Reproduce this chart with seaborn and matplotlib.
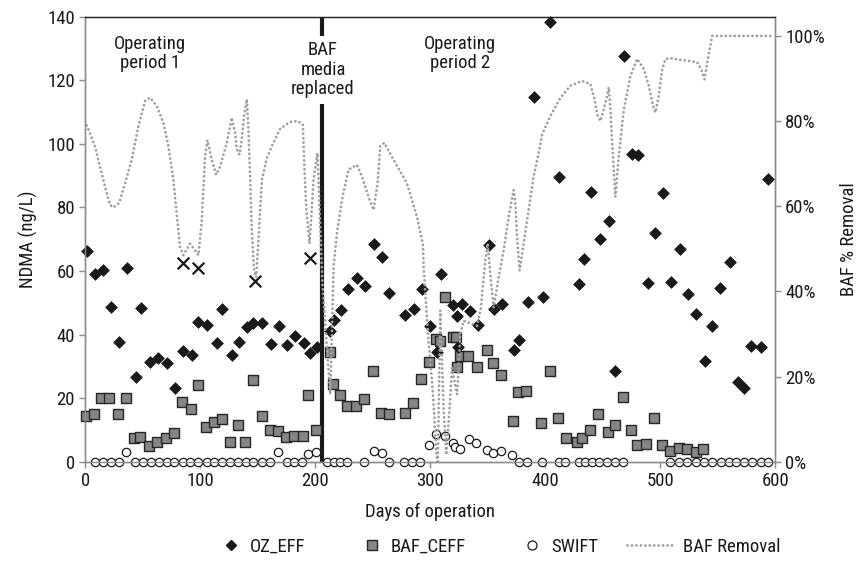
import numpy as np
import pandas as pd
import matplotlib
matplotlib.use("Agg")
import matplotlib.pyplot as plt
from matplotlib import font_manager as fm
import seaborn as sns
from matplotlib.lines import Line2D
from matplotlib.legend_handler import HandlerLine2D
from matplotlib.ticker import PercentFormatter

# ---------------- data ----------------
oz_days = [1.6, 8.3, 15, 21.9, 29.2, 36.4, 43.7, 48, 56.1, 63.4, 70.7, 77.9, 85.1, 92.4, 98.2,
           105.5, 114.2, 119, 127.2, 133.9, 140.3, 146, 153.9, 161.4, 168.4, 175.6, 182.6, 190,
           194.8, 201.7, 212.8, 215.7, 222.1, 228.7, 236, 243.3, 250.5, 257.8, 263.5, 278.1, 285.3,
           292.6, 299.8, 305.3, 309.1, 319.6, 323.1, 323.9, 327.4, 334, 341, 350.6, 355, 362.2,
           372.3, 376.7, 384.5, 389.7, 397.6, 404.3, 411.5, 428.9, 433.2, 439.9, 447.2, 455,
           460.8, 468.1, 475.4, 480.7, 488.9, 495.6, 502.3, 509.3, 516.8, 523.8, 531.1, 538.3,
           545, 551.6, 560.3, 567.3, 572.5, 578.9, 587, 593.4]
oz_vals = [66.3, 59.2, 60.3, 48.6, 37.7, 61, 26.6, 48.4, 31.4, 32.6, 31, 23.2, 34.7, 33.5, 44,
           43, 37.4, 48.2, 33.5, 37.7, 42.3, 43.7, 43.7, 37, 42.6, 36.8, 39.6, 37.4,
           34.2, 36.2, 41.1, 44.5, 47.7, 54.2, 57.7, 55.4, 68.5, 64.5, 53.1, 46.1, 48.2,
           54.4, 42.6, 34.5, 59, 49.2, 45.8, 36, 49.7, 47.4, 42.9, 68.2, 47.9, 49.7,
           35, 38.4, 50.2, 114.6, 51.8, 138.4, 89.5, 55.8, 63.7, 84.7, 70.2, 75.6,
           28.6, 127.7, 96.9, 96.5, 56.1, 71.9, 84.4, 56.5, 66.9, 52.8, 46.6, 31.6,
           42.6, 54.7, 62.9, 25, 23.2, 36.3, 36, 89]

baf_days = [0.2, 7.7, 13.5, 20.7, 28, 35.2, 42.5, 47.4, 55.3, 62.5, 69.8, 77, 84.2, 91.6, 98.2,
            104.6, 111.8, 119.1, 125.8, 132.5, 138.8, 146, 153.4, 160.6, 167.8, 174.5, 181.5,
            189, 193.9, 200.6, 212.2, 215.1, 220.9, 227.3, 235.2, 242.4, 250, 257.2, 263.5,
            277.5, 284.8, 291.7, 298.3, 305, 307.9, 312.9, 319.6, 322.5, 323.1, 325.3, 332.6,
            340.1, 348.8, 354.4, 361.4, 371.4, 376.1, 383.4, 396.4, 403.7, 411, 418.2, 427.5,
            431.9, 439.1, 445.8, 454.1, 460.2, 467.5, 474.5, 480, 487.6, 494.8, 501.5, 508.7,
            515.9, 523.2, 530.5, 537.2]
baf_vals = [14.4, 15, 20, 20, 15, 20, 7.4, 7.9, 4.9, 6.3, 7.4, 8.9, 18.7, 16.5, 24.2,
            10.8, 12.6, 13.5, 6.3, 11.4, 6.3, 25.8, 14.4, 10, 9.7, 7.9, 8.1,
            8.1, 21, 10, 34.5, 24.4, 21, 17.4, 17.4, 19.8, 28.6, 15.3, 15,
            15.3, 18.4, 26.1, 31.3, 38.7, 38.1, 51.8, 39.3, 39.3, 29.8, 33.2, 33.2,
            29.8, 35.3, 31.2, 27.3, 12.9, 22, 22.1, 12.1, 28.6, 13.9, 7.4, 6.3,
            7.6, 10, 15, 9.2, 11.6, 20.5, 10, 5.3, 5.6, 13.7, 5.3, 3.4,
            4.2, 3.9, 3.2, 3.9]

swift_days = [8.3, 15.5, 22.2, 29.2, 35.2, 43.1, 50.3, 57, 64, 70.7, 77.3, 84.6, 91, 98.2,
              105.5, 112.1, 118.5, 125.8, 133, 139.4, 146, 153.4, 160.6, 167.8, 175.1, 181.7,
              188.2, 193.9, 200.6, 209.9, 215.7, 221.5, 227.3, 241.8, 250.5, 257.8, 263.5,
              276.6, 283.9, 291.1, 298.3, 305, 312.9, 319.6, 321.6, 325.3, 333.2, 339.9,
              349.2, 354.4, 361.4, 370.9, 376.7, 384, 397, 411.5, 417.3, 428.9, 434.7, 440.6,
              446.3, 453.6, 460.8, 467.5, 508.7, 515.9, 523.2, 530.5, 537.7, 545, 552.4,
              559.4, 565.3, 572.5, 579.8, 587, 593.4]
swift_vals = [0, 0, 0, 0, 3, 0, 0, 0, 0, 0, 0, 0, 0, 0,
              0, 0, 0, 0, 0, 0, 0, 0, 0, 3.2, 0, 0,
              0, 2.3, 3.2, 0, 0, 0, 0, 0, 3.5, 2.7, 0,
              0, 0, 0, 5.3, 8.6, 8.2, 5.8, 4.7, 4.0, 7.2, 5.9,
              3.7, 2.6, 3.4, 2.1, 0, 0, 0, 0, 0, 0, 0, 0,
              0, 0, 0, 0, 0, 0, 0, 0, 0, 0, 0,
              0, 0, 0, 0, 0, 0]

flag_days = [85.1, 98.2, 147.5, 194.8]
flag_vals = [62.6, 61, 56.9, 64.2]

removal_days = [1.0, 3.3, 8.3, 12.6, 17, 21.3, 24.2, 29.4, 34.4, 40.2, 46, 51.8, 56.1, 62, 67.7,
                72.1, 76.4, 79.9, 82.2, 85.1, 90.9, 95.3, 98.2, 101.1, 104, 106, 109.8, 113.6,
                117.1, 122.9, 127.2, 130.1, 131.6, 133.9, 135.9, 137.9, 140.3, 141.7, 143.2,
                144.6, 146.6, 148.4, 150.4, 153.4, 157.7, 163.4, 169.3, 178, 184.3, 189, 190.2,
                191.9, 194.8, 196, 198.3, 201.7, 206, 212.8, 214.3, 215.7, 218.6, 223, 228.7,
                236, 240.4, 246.1, 250.5, 254, 256.3, 259.8, 267.9, 279.5, 288.3, 293.5, 294,
                296.3, 298.3, 301.3, 303.3, 305, 306.4, 308.5, 311.4, 313.7, 316.6, 318.7,
                323.1, 324.5, 325.9, 328.8, 340.5, 343.9, 345.7, 347.7, 349.7, 352, 354.9,
                359.3, 363.6, 368, 372.3, 373.8, 375.3, 377.5, 381, 385.4, 389.7, 394.1, 397,
                404.3, 413, 421.7, 431.9, 439.1, 442.6, 445.4, 447.8, 450.6, 453.6, 455, 456.5,
                458, 460.8, 463.7, 468.1, 473.9, 479.7, 485.5, 489.8, 493.6, 495.6, 498.5,
                501.5, 504.4, 510.2, 515.9, 523.2, 531.9, 535.4, 538.3, 541.2, 545, 598.6]
removal_pct = [79, 77.6, 74, 69.3, 64.6, 60.3, 59.7, 60.8, 65.4, 70.9, 78.8, 84.7, 85.5, 83.5, 79.6,
               74.1, 66.2, 56.7, 50.4, 48.5, 51.2, 49.6, 48.5, 56.7, 71.7, 75.5, 70.9, 67.4,
               69.3, 74.9, 80.8, 77.2, 73.3, 72.1, 75.7, 81.2, 85.1, 78, 66.2,
               54.4, 44.9, 43.3, 52, 66.2, 71.3, 74.9, 78.2, 79.8, 80, 79.2, 70.1,
               59.9, 51.2, 56, 66.2, 72.5, 42, 15.8, 30, 45.7, 53.6, 61.5, 68.6,
               69.7, 67, 62.2, 59.1, 65.4, 74.1, 74.9, 70.9, 65.4, 57.5, 50.8, 46,
               36.2, 28.4, 18.9, 11, 1.6, 0, 35.5, 12.6, 1.6, 12.6, 22,
               15.8, 22, 30, 33.1, 31.9, 36.2, 41.8, 47.3, 51.2, 44.1, 36.2,
               43.3, 49.6, 57.5, 63.8, 60.7, 52.8, 44.9, 51.2, 59.1, 67, 72.5, 76.8,
               81.2, 85.5, 88.3, 89.4, 88.7, 85.1, 81.2, 80, 82.7, 85.9, 87.9, 82.7,
               74.9, 62.2, 71.7, 82.7, 90.6, 94.6, 92.2, 88.3, 83.5, 82, 85.9,
               92.2, 94.6, 94.7, 94.4, 94.2, 93.8, 92.2, 89.8, 94.6, 100, 100]

media_change_day = 205.6
x_ticks = [0, 100, 200, 300, 400, 500, 600]
y_ticks = [0, 20, 40, 60, 80, 100, 120, 140]
y2_ticks = [0, 20, 40, 60, 80, 100]

# ---------------- style ----------------
sns.set_style("white")

# pick a narrow / condensed sans face if one is installed
_fonts = fm.fontManager.ttflist
_names = {f.name for f in _fonts}
FONT_FAMILY = ['Liberation Sans', 'DejaVu Sans']
FONT_STRETCH = 'normal'
FS = 12
for cand in ['Liberation Sans Narrow', 'Arial Narrow', 'Roboto Condensed',
             'Open Sans Condensed', 'DejaVu Sans Condensed', 'Noto Sans Condensed']:
    if cand in _names:
        FONT_FAMILY = [cand, 'DejaVu Sans']
        FS = 13.5
        break
else:
    for fam in ['Liberation Sans', 'Roboto', 'Open Sans', 'Noto Sans', 'DejaVu Sans']:
        if any(f.name == fam and f.stretch in ('condensed', 'semi-condensed', 'extra-condensed')
               for f in _fonts):
            FONT_FAMILY = [fam, 'DejaVu Sans']
            FONT_STRETCH = 'condensed'
            FS = 13.5
            break
plt.rcParams['font.family'] = FONT_FAMILY
plt.rcParams['font.stretch'] = FONT_STRETCH

GRAY_AX = '#8c8c8c'
TXT = '#1a1a1a'
LINE_C = '#a0a0a0'

fig = plt.figure(figsize=(8.68, 5.61), dpi=100)
ax = fig.add_axes([0.0985, 0.177, 0.7949, 0.7932])
ax2 = ax.twinx()

oz = pd.DataFrame({'day': oz_days, 'val': oz_vals})
baf = pd.DataFrame({'day': baf_days, 'val': baf_vals})
sw = pd.DataFrame({'day': swift_days, 'val': swift_vals})
fl = pd.DataFrame({'day': flag_days, 'val': flag_vals})
rm = pd.DataFrame({'day': removal_days, 'pct': removal_pct})

ax.axvline(media_change_day, color='#1a1a1a', lw=3.0, zorder=1.5)

sns.scatterplot(data=sw, x='day', y='val', ax=ax, marker='o', s=36, color='white',
                edgecolor='#1a1a1a', linewidth=0.9, zorder=3, clip_on=False, legend=False)
sns.scatterplot(data=baf, x='day', y='val', ax=ax, marker='s', s=48, color='#858585',
                edgecolor='#262626', linewidth=1.0, zorder=3, clip_on=False, legend=False)
sns.scatterplot(data=oz, x='day', y='val', ax=ax, marker='D', s=36, color='#1a1a1a',
                edgecolor='#1a1a1a', linewidth=0.5, zorder=4, clip_on=False, legend=False)
sns.scatterplot(data=fl, x='day', y='val', ax=ax, marker='x', s=70, color='#1a1a1a',
                linewidth=1.6, zorder=4, legend=False)

sns.lineplot(data=rm, x='day', y='pct', ax=ax2, sort=False, estimator=None,
             color=LINE_C, lw=2.0, legend=False)
for ln in ax2.lines:
    ln.set_linestyle((0, (0.05, 1.55)))
    ln.set_dash_capstyle('round')

ax.set_xlim(0, 600)
ax.set_ylim(0, 140)
ax2.set_ylim(0, 104.5)
ax.set_xticks(x_ticks)
ax.set_yticks(y_ticks)
ax2.set_yticks(y2_ticks)
ax2.yaxis.set_major_formatter(PercentFormatter(100, decimals=0))

for a in (ax, ax2):
    for side in ('left', 'right', 'bottom'):
        a.spines[side].set_color(GRAY_AX)
        a.spines[side].set_linewidth(1.0)
    a.spines['top'].set_color('#262626')
    a.spines['top'].set_linewidth(0.9)
    a.tick_params(axis='both', colors=GRAY_AX, labelcolor=TXT, labelsize=FS,
                  length=4, width=1.0, direction='out')
ax.tick_params(axis='y', left=True, right=False)
ax.tick_params(axis='x', bottom=True)
ax2.tick_params(axis='y', right=True, pad=3)

ax.set_xlabel('Days of operation', fontsize=FS, color=TXT, labelpad=9)
ax.set_ylabel('NDMA (ng/L)', fontsize=FS, color=TXT, labelpad=7)
ax2.set_ylabel('BAF % Removal', fontsize=FS, color=TXT, labelpad=11)

ax.text(56, 128.5, 'Operating\nperiod 1', ha='center', va='center', fontsize=FS,
        color=TXT, linespacing=1.1, zorder=5)
ax.text(326, 128.5, 'Operating\nperiod 2', ha='center', va='center', fontsize=FS,
        color=TXT, linespacing=1.1, zorder=5)
ax.text(206.5, 123.3, 'BAF\nmedia\nreplaced', ha='center', va='center', fontsize=FS,
        color=TXT, linespacing=1.1, zorder=5,
        bbox=dict(facecolor='white', edgecolor='none', pad=4))


class LongLine(HandlerLine2D):
    def create_artists(self, legend, orig_handle, xdescent, ydescent, width, height,
                       fontsize, trans):
        extra = 20
        return super().create_artists(legend, orig_handle, xdescent + extra, ydescent,
                                      width + extra, height, fontsize, trans)


h_oz = Line2D([], [], ls='none', marker='D', ms=5.5, color='#1a1a1a')
h_baf = Line2D([], [], ls='none', marker='s', ms=7, markerfacecolor='#858585',
               markeredgecolor='#262626', markeredgewidth=1.0)
h_sw = Line2D([], [], ls='none', marker='o', ms=6.5, markerfacecolor='white',
              markeredgecolor='#1a1a1a', markeredgewidth=0.9)
h_rm = Line2D([], [], color=LINE_C, lw=2.0, ls=(0, (0.05, 1.55)), dash_capstyle='round')
fig.legend([h_oz, h_baf, h_sw, h_rm], ['OZ_EFF', 'BAF_CEFF', 'SWIFT', 'BAF Removal'],
           loc='center', bbox_to_anchor=(0.577, 0.025), ncol=4, frameon=False,
           fontsize=FS, handlelength=1.1, handletextpad=0.45, columnspacing=3.0,
           handler_map={h_rm: LongLine(numpoints=1)}, labelcolor=TXT)

fig.savefig('out.png', dpi=100)
